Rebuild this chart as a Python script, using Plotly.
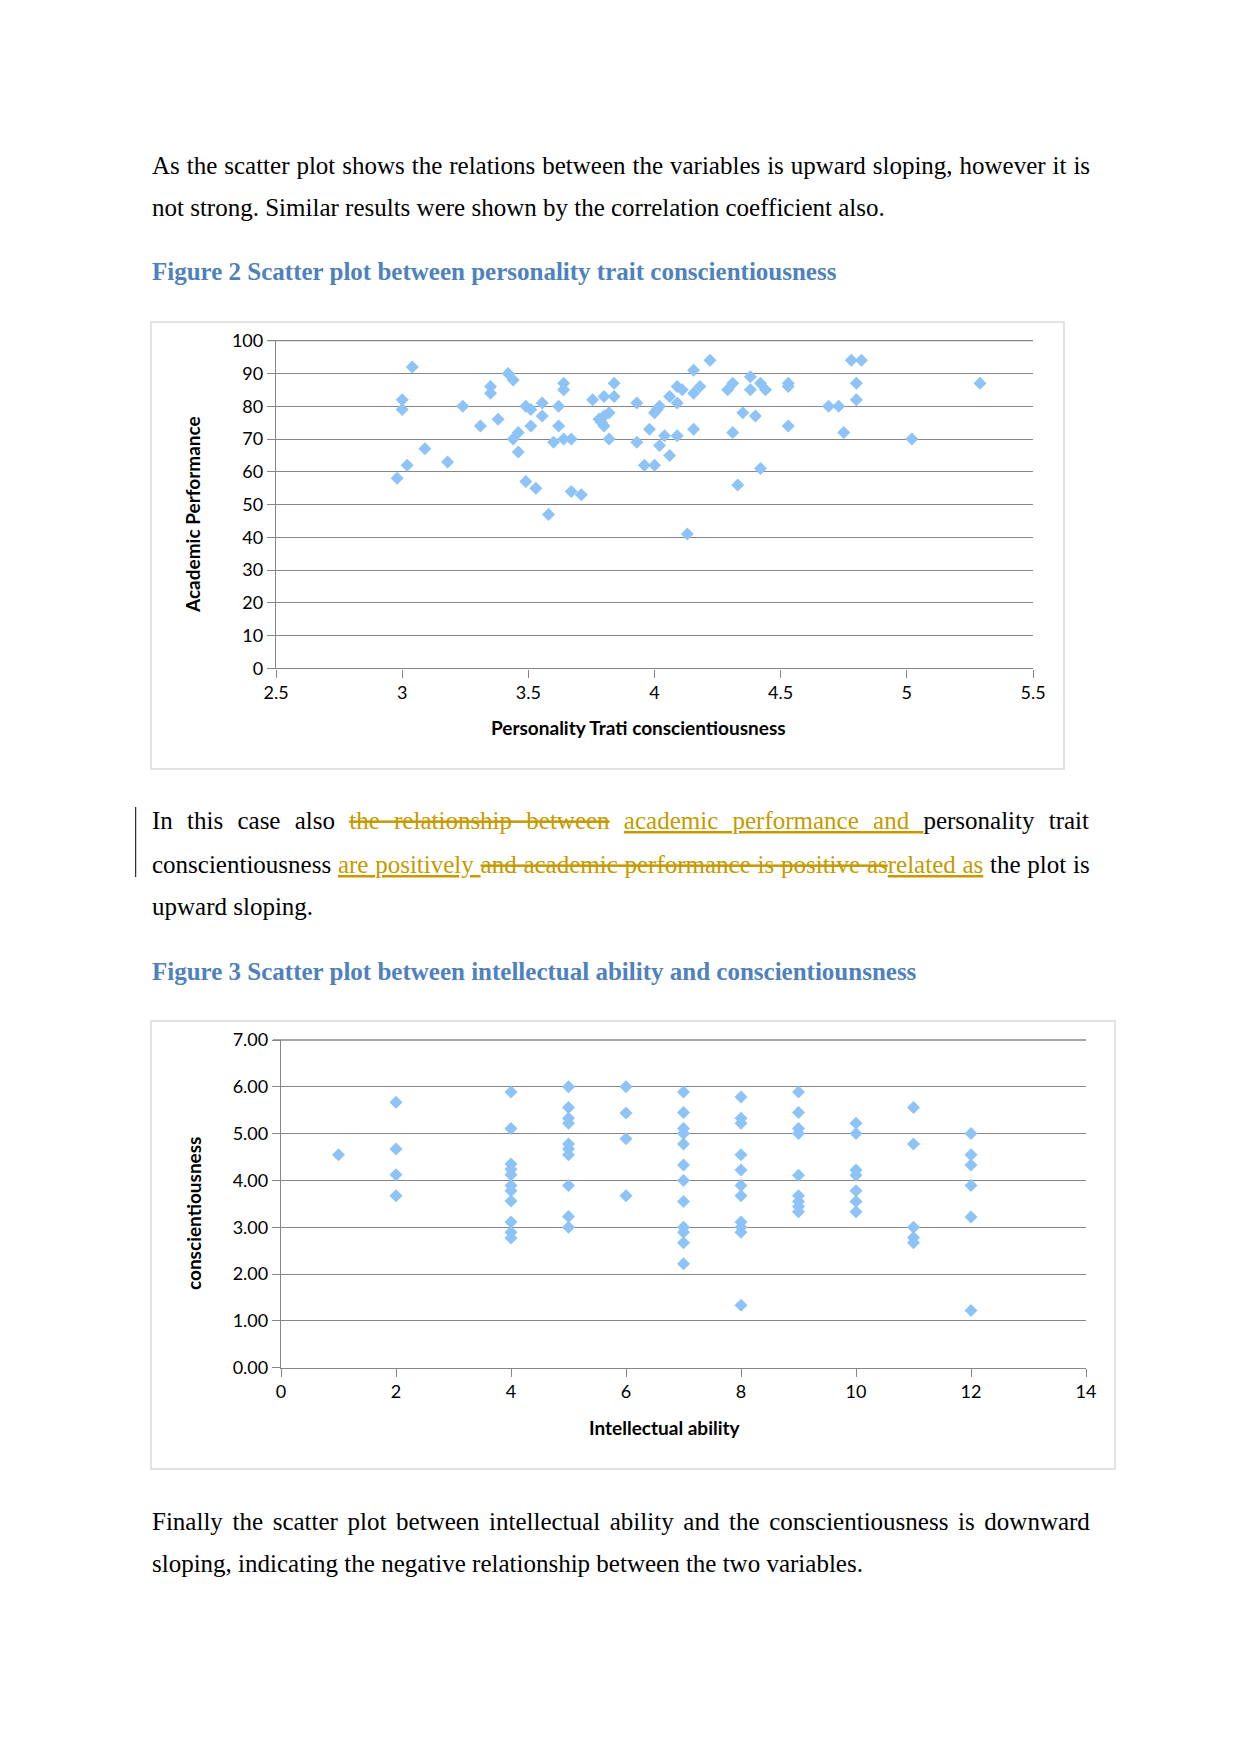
import plotly.graph_objects as go

W, H = 1241, 1754

# ---------------- data ----------------
personality_x = [2.98, 3.00, 3.00, 3.04, 3.02, 3.09, 3.18, 3.24, 3.31, 3.35, 3.35, 3.38,
                 3.42, 3.44, 3.44, 3.46, 3.46, 3.49, 3.51, 3.51, 3.49, 3.53, 3.555, 3.555,
                 3.58, 3.60, 3.62, 3.62, 3.64, 3.64, 3.64, 3.67, 3.67, 3.71, 3.755,
                 3.78, 3.79, 3.80, 3.80, 3.80, 3.82, 3.82, 3.84, 3.84,
                 3.93, 3.93, 3.96, 3.98, 4.00, 4.00, 4.01, 4.02, 4.02, 4.04, 4.06, 4.06,
                 4.09, 4.09, 4.09, 4.11, 4.13, 4.155, 4.155, 4.155, 4.18, 4.22, 4.29, 4.31,
                 4.31, 4.33, 4.35, 4.38, 4.38, 4.40, 4.42, 4.42, 4.44, 4.53, 4.53, 4.53,
                 4.69, 4.73, 4.75, 4.78, 4.82, 4.80, 4.80, 5.02, 5.29]
academic_y = [58, 82, 79, 92, 62, 67, 63, 80, 74, 86, 84, 76,
              90, 88, 70, 72, 66, 80, 79, 74, 57, 55, 81, 77,
              47, 69, 80, 74, 87, 85, 70, 70, 54, 53, 82,
              76, 75, 83, 77, 74, 78, 70, 87, 83,
              81, 69, 62, 73, 62, 78, 79, 80, 68, 71, 65, 83,
              86, 81, 71, 85, 41, 91, 84, 73, 86, 94, 85, 87,
              72, 56, 78, 89, 85, 77, 87, 61, 85, 87, 86, 74,
              80, 80, 72, 94, 94, 87, 82, 70, 87]

intellectual_x = [1,
                  2, 2, 2, 2,
                  4, 4, 4, 4, 4, 4, 4, 4, 4, 4, 4,
                  5, 5, 5, 5, 5, 5, 5, 5, 5, 5,
                  6, 6, 6, 6,
                  7, 7, 7, 7, 7, 7, 7, 7, 7, 7, 7, 7,
                  8, 8, 8, 8, 8, 8, 8, 8, 8, 8, 8,
                  9, 9, 9, 9, 9, 9, 9, 9, 9,
                  10, 10, 10, 10, 10, 10, 10,
                  11, 11, 11, 11, 11,
                  12, 12, 12, 12, 12, 12]
conscient_y = [4.55,
               5.67, 4.67, 4.12, 3.67,
               5.89, 5.11, 4.35, 4.24, 4.12, 3.89, 3.78, 3.56, 3.11, 2.89, 2.77,
               6.00, 5.56, 5.33, 5.22, 4.78, 4.67, 4.55, 3.89, 3.23, 3.00,
               6.00, 5.44, 4.89, 3.67,
               5.89, 5.45, 5.11, 5.00, 4.78, 4.33, 4.00, 3.55, 3.00, 2.89, 2.67, 2.22,
               5.78, 5.33, 5.22, 4.55, 4.22, 3.89, 3.67, 3.11, 3.00, 2.89, 1.33,
               5.89, 5.45, 5.11, 5.00, 4.11, 3.67, 3.55, 3.44, 3.33,
               5.22, 5.00, 4.22, 4.11, 3.78, 3.55, 3.33,
               5.56, 4.78, 3.00, 2.78, 2.67,
               5.00, 4.55, 4.33, 3.89, 3.22, 1.22]

# ---------------- helpers ----------------
def px(x):
    return x / W

def py(y):
    return 1 - y / H

MARK = "#8DC3F6"
GRID = "#868686"
SERIF = "Liberation Serif, Times New Roman, serif"
SANS = "Lato, Carlito, Calibri, sans-serif"
GOLD = "#C49A00"
BLUE = "#4F81BD"

fig = go.Figure()
fig.add_trace(go.Scatter(x=personality_x, y=academic_y, mode="markers",
                         marker=dict(symbol="diamond", size=10, color=MARK,
                                     line=dict(width=0)),
                         xaxis="x", yaxis="y", showlegend=False, hoverinfo="x+y"))
fig.add_trace(go.Scatter(x=intellectual_x, y=conscient_y, mode="markers",
                         marker=dict(symbol="diamond", size=10, color=MARK,
                                     line=dict(width=0)),
                         xaxis="x2", yaxis="y2", showlegend=False, hoverinfo="x+y"))

axis_common = dict(showline=True, linecolor=GRID, linewidth=1.3, ticks="outside",
                   ticklen=8, tickcolor=GRID, tickwidth=1.3, zeroline=False,
                   automargin=False,
                   tickfont=dict(family=SANS, size=18, color="#000000"))

X1 = (276, 1033)
Y1 = (340.7, 668.4)
X2 = (281, 1086)
Y2 = (1040, 1367.6)

fig.update_layout(
    width=W, height=H,
    margin=dict(l=0, r=0, t=0, b=0, pad=0, autoexpand=False),
    paper_bgcolor="white", plot_bgcolor="white",
    xaxis=dict(domain=[px(X1[0]), px(X1[1])], range=[2.5, 5.5], dtick=0.5, tick0=2.5,
               showgrid=False, anchor="y", **axis_common),
    yaxis=dict(domain=[py(Y1[1]), py(Y1[0])], range=[0, 100], dtick=10, tick0=0,
               showgrid=True, gridcolor=GRID, gridwidth=1.3, anchor="x", **axis_common),
    xaxis2=dict(domain=[px(X2[0]), px(X2[1])], range=[0, 14], dtick=2, tick0=0,
                showgrid=False, anchor="y2", **axis_common),
    yaxis2=dict(domain=[py(Y2[1]), py(Y2[0])], range=[0, 7], dtick=1, tick0=0,
                tickformat=".2f", showgrid=True, gridcolor=GRID, gridwidth=1.3,
                anchor="x2", **axis_common),
)

shapes = [
    dict(type="rect", xref="paper", yref="paper", x0=px(151), x1=px(1064),
         y0=py(769), y1=py(322), line=dict(color="#D9D9D9", width=1.5),
         fillcolor="rgba(0,0,0,0)", layer="below"),
    dict(type="rect", xref="paper", yref="paper", x0=px(151), x1=px(1115),
         y0=py(1469), y1=py(1021), line=dict(color="#D9D9D9", width=1.5),
         fillcolor="rgba(0,0,0,0)", layer="below"),
    dict(type="line", xref="paper", yref="paper", x0=px(135.7), x1=px(135.7),
         y0=py(877), y1=py(807), line=dict(color="#000000", width=1)),
    # top gridlines (plotly clips grid lines at the range ends)
    dict(type="line", xref="paper", yref="paper", x0=px(X1[0] - 8), x1=px(X1[1]),
         y0=py(Y1[0]), y1=py(Y1[0]), line=dict(color=GRID, width=1.3)),
    dict(type="line", xref="paper", yref="paper", x0=px(X2[0] - 8), x1=px(X2[1]),
         y0=py(Y2[0]), y1=py(Y2[0]), line=dict(color=GRID, width=1.3)),
]
fig.update_layout(shapes=shapes)

def text(x, y, s, size=25, color="#000000", family=SERIF, anchor="left", angle=0):
    fig.add_annotation(x=px(x), y=py(y), xref="paper", yref="paper", text=s,
                       showarrow=False, xanchor=anchor, yanchor="middle",
                       textangle=angle, align="left", borderpad=0,
                       font=dict(family=family, size=size, color=color))

def ws(s, px_):
    return '<span style="word-spacing:%.1fpx">%s</span>' % (px_, s)

# paragraph 1
text(151, 165, ws("As the scatter plot shows the relations between the variables is upward sloping, however it is", 0.7))
text(151, 208, "not strong. Similar results were shown by the correlation coefficient also.")
text(151, 272, "<b>Figure 2 Scatter plot between personality trait conscientiousness</b>", color=BLUE)

# paragraph 2 (tracked changes)
g = 'color:%s' % GOLD
line1 = ('<span style="word-spacing:8px">In this case also '
         '<span style="%s"><s>the relationship between</s></span> '
         '<span style="%s"><u>academic performance and </u></span>'
         'personality trait</span>') % (g, g)
text(151, 821, line1)
line2 = ('<span style="word-spacing:0.5px">conscientiousness '
         '<span style="%s"><u>are positively </u></span>'
         '<span style="%s"><s>and academic performance is positive as</s></span>'
         '<span style="%s"><u>related as</u></span> the plot is</span>') % (g, g, g)
text(151, 864, line2)
text(151, 906, "upward sloping.")
text(151, 971, "<b>Figure 3 Scatter plot between intellectual ability and conscientiounsness</b>", color=BLUE)

# paragraph 3
text(151, 1521, ws("Finally the scatter plot between intellectual ability and the conscientiousness is downward", 3.4))
text(151, 1563, "sloping, indicating the negative relationship between the two variables.")

# axis titles
text(639, 727, "<b>Personality Trati conscientiousness</b>", size=19, family=SANS, anchor="center")
text(193, 515, "<b>Academic Performance</b>", size=19, family=SANS, anchor="center", angle=-90)
text(665, 1427, "<b>Intellectual ability</b>", size=19, family=SANS, anchor="center")
text(193, 1214, "<b>conscientiousness</b>", size=19, family=SANS, anchor="center", angle=-90)

fig.write_html("out.html")
